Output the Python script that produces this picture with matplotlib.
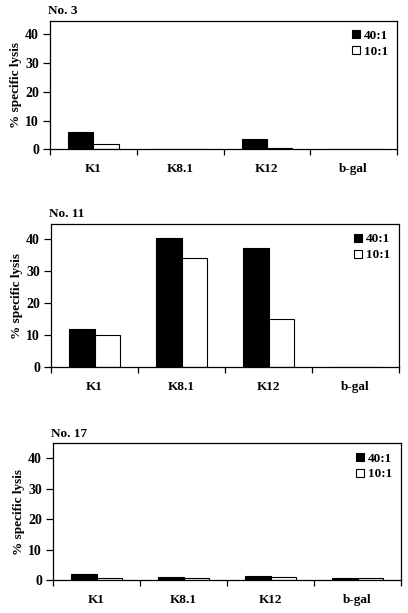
import matplotlib
matplotlib.use("Agg")
import matplotlib.pyplot as plt
import numpy as np

plt.rcParams['font.family'] = ['Liberation Serif', 'DejaVu Serif']
plt.rcParams['font.weight'] = 'bold'

categories = ["K1", "K8.1", "K12", "b-gal"]
panel_titles = ["No. 3", "No. 11", "No. 17"]
series_names = ["40:1", "10:1"]
yticks = [0, 10, 20, 30, 40]

no3_40 = [6.2, 0.0, 3.5, 0.0]
no3_10 = [2.0, 0.0, 0.3, 0.2]
no11_40 = [12.1, 40.3, 37.3, 0.0]
no11_10 = [10.2, 34.1, 15.1, 0.0]
no17_40 = [2.1, 1.0, 1.5, 0.6]
no17_10 = [0.6, 0.6, 1.1, 0.6]

panels = [(no3_40, no3_10), (no11_40, no11_10), (no17_40, no17_10)]

W, H = 408, 613
fig = plt.figure(figsize=(W / 100, H / 100), dpi=100)
# (left, right, top, bottom) in pixels
boxes = [(50, 397, 20.7, 149.3), (51, 399, 224, 367.3), (53, 401, 443.3, 580.3)]

for (l, r, t, b), title, (s40, s10) in zip(boxes, panel_titles, panels):
    ax = fig.add_axes([l / W, 1 - b / H, (r - l) / W, (b - t) / H])
    x = np.arange(len(categories)) + 0.5
    bw = 0.29
    ax.bar(x - bw / 2, s40, width=bw, color='black', edgecolor='black',
           linewidth=0.8, label=series_names[0])
    ax.bar(x + bw / 2, s10, width=bw, color='white', edgecolor='black',
           linewidth=0.8, label=series_names[1])
    ax.set_xlim(0, len(categories))
    ax.set_ylim(0, 44.8)
    ax.set_yticks(yticks)
    ax.set_yticklabels([str(v) for v in yticks], fontsize=10, fontweight='bold')
    ax.set_xticks(np.arange(len(categories) + 1))
    ax.set_xticklabels([])
    ax.set_xticks(x, minor=True)
    ax.set_xticklabels(categories, minor=True, fontsize=9.5, fontweight='bold')
    ax.tick_params(axis='x', which='major', direction='out', length=4, width=0.9)
    ax.tick_params(axis='x', which='minor', length=0, pad=10)
    ax.tick_params(axis='y', direction='out', length=5, width=0.9, pad=3)
    for sp in ax.spines.values():
        sp.set_linewidth(0.9)
    ax.set_ylabel("% specific lysis", fontsize=9.5, fontweight='bold', labelpad=2)
    ax.text(-0.005, 1.025, title, transform=ax.transAxes, ha='left', va='bottom',
            fontsize=9.5, fontweight='bold')
    ax.legend(loc='upper right', frameon=False, handlelength=0.6,
              handleheight=0.55, handletextpad=0.25, labelspacing=0.3,
              borderaxespad=0.3, prop={'weight': 'bold', 'size': 9.5})

fig.savefig("out.png", dpi=100)
